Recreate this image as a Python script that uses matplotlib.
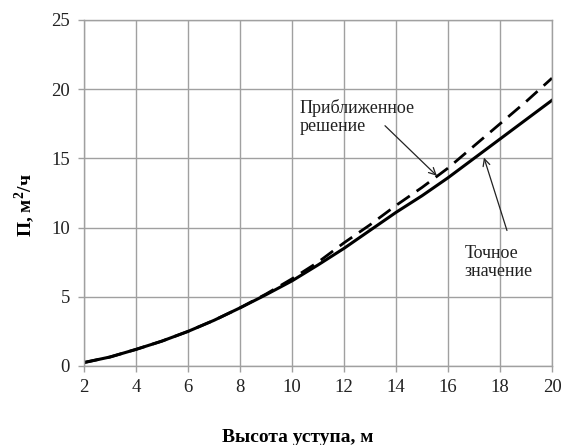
import numpy as np
import matplotlib.pyplot as plt

plt.rcParams['font.family'] = ['Liberation Serif', 'DejaVu Serif']
plt.rcParams['mathtext.fontset'] = 'custom'
plt.rcParams['mathtext.rm'] = 'Liberation Serif'
plt.rcParams['mathtext.bf'] = 'Liberation Serif:bold'

# высота уступа, м
h = [2, 3, 4, 5, 6, 7, 8, 9, 10, 11, 12, 13, 14, 15, 16, 17, 18, 19, 20]
# точное значение
p_exact = [0.25, 0.65, 1.2, 1.8, 2.5, 3.3, 4.2, 5.15, 6.15, 7.3, 8.5, 9.8,
           11.1, 12.3, 13.6, 15.0, 16.4, 17.8, 19.2]
# приближенное решение
p_approx = [0.25, 0.65, 1.2, 1.8, 2.5, 3.3, 4.2, 5.2, 6.3, 7.5, 8.9, 10.2,
            11.6, 12.9, 14.3, 15.9, 17.5, 19.1, 20.8]

fig = plt.figure(figsize=(5.61, 4.45), dpi=100)
ax = fig.add_axes([84 / 561, 1 - 366 / 445, 468 / 561, 346 / 445])

ax.plot(h, p_approx, color='black', lw=2.0, linestyle=(0, (5.5, 3)))
ax.plot(h, p_exact, color='black', lw=2.2)

ax.set_xlim(2, 20)
ax.set_ylim(0, 25)
ax.set_xticks(np.arange(2, 21, 2))
ax.set_yticks(np.arange(0, 26, 5))
ax.grid(True, color='#a0a0a0', lw=1.0)
ax.set_axisbelow(True)
for s in ax.spines.values():
    s.set_color('#a0a0a0')
    s.set_linewidth(1.0)
ax.tick_params(axis='both', colors='#a0a0a0', labelcolor='#222222',
               length=4, width=1.0, labelsize=13.5)
ax.tick_params(axis='x', pad=5)
ax.tick_params(axis='y', pad=6)

# подписи линий
ax.text(10.3, 18.0, "Приближенное\nрешение", fontsize=13, va='center',
        ha='left', linespacing=1.1, color='#222222')
ax.annotate('', xy=(15.65, 13.6), xytext=(13.5, 17.5),
            arrowprops=dict(arrowstyle='->,head_length=0.5,head_width=0.25',
                            color='#222222', lw=0.9))
ax.text(16.65, 7.5, "Точное\nзначение", fontsize=13, va='center',
        ha='left', linespacing=1.1, color='#222222')
ax.annotate('', xy=(17.35, 15.25), xytext=(18.3, 9.6),
            arrowprops=dict(arrowstyle='->,head_length=0.5,head_width=0.25',
                            color='#222222', lw=0.9))

fig.text(298 / 561, 1 - 438 / 445, "Высота уступа, м", fontsize=14,
         fontweight='bold', ha='center', va='center')
fig.text(25 / 561, 1 - 205 / 445, r"П, м$^{\mathbf{2}}$/ч", fontsize=14,
         fontweight='bold', ha='center', va='center', rotation=90)

fig.savefig('out.png', dpi=100)
